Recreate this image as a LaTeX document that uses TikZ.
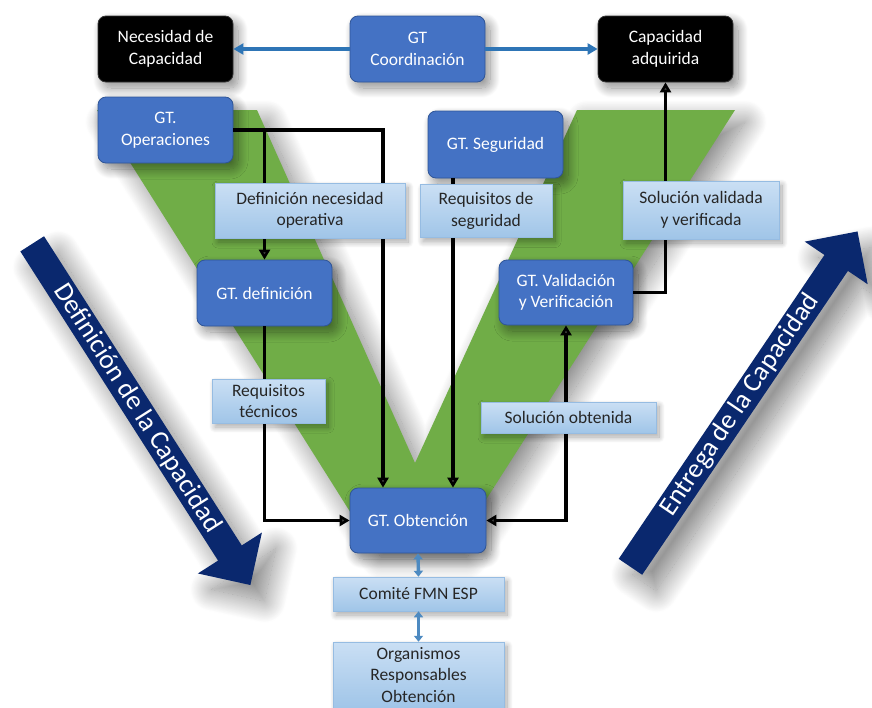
\documentclass[tikz,border=0pt]{standalone}
\usepackage{fontspec}
\setmainfont{Carlito}
\usetikzlibrary{arrows.meta,shapes.arrows,shadows.blur}

\definecolor{gtblue}{RGB}{68,114,196}
\definecolor{gtborder}{RGB}{47,85,151}
\definecolor{vgreen}{RGB}{112,173,71}
\definecolor{deepnavy}{RGB}{10,40,110}
\definecolor{linkblue}{RGB}{46,117,182}
\definecolor{lbltop}{RGB}{202,223,244}
\definecolor{lblbot}{RGB}{160,197,232}
\definecolor{lblline}{RGB}{150,188,226}

\tikzset{
  softshadow/.style={blur shadow={shadow xshift=5pt, shadow yshift=-6pt,
      shadow blur radius=10pt, shadow blur steps=24, shadow opacity=45}},
  gt/.style={rectangle, rounded corners=8pt, fill=gtblue, draw=gtborder,
    line width=0.8pt, text=white, align=center, inner sep=0pt,
    minimum width=135pt, minimum height=66pt,
    font=\fontsize{17.5}{21.5}\selectfont, softshadow},
  milestone/.style={gt, fill=black, draw=black!80},
  tag/.style={rectangle, top color=lbltop, bottom color=lblbot, draw=lblline,
    line width=0.5pt, text=black!85, align=center, inner sep=0pt,
    font=\fontsize{17.5}{21.5}\selectfont,
    blur shadow={shadow xshift=3pt, shadow yshift=-4pt,
      shadow blur radius=6pt, shadow blur steps=16, shadow opacity=35}},
  phase/.style={single arrow, fill=deepnavy, text=white, inner sep=0pt,
    minimum height=405pt, minimum width=76pt,
    single arrow head extend=20pt, single arrow tip angle=90,
    font=\fontsize{27}{27}\selectfont,
    blur shadow={shadow xshift=14pt, shadow yshift=-16pt,
      shadow blur radius=22pt, shadow blur steps=40, shadow opacity=50}},
  flow/.style={line width=3.8pt, -{Triangle[length=10pt,width=11pt]}},
  flowboth/.style={line width=3.8pt,
    {Triangle[length=10pt,width=11pt]}-{Triangle[length=10pt,width=11pt]}},
  bluelink/.style={draw=linkblue, line width=3.4pt,
    -{Triangle[length=10pt,width=11pt]}},
  twoway/.style={draw=linkblue!85, line width=3.4pt,
    {Triangle[length=6pt,width=9pt]}-{Triangle[length=6pt,width=9pt]}},
}

\begin{document}
\begin{tikzpicture}[x=1pt,y=-1pt]
\useasboundingbox (0,0) rectangle (872,707);

% green V behind the process
\fill[vgreen, blur shadow={shadow xshift=10pt, shadow yshift=-12pt,
      shadow blur radius=22pt, shadow blur steps=40, shadow opacity=50}]
  (97,110) -- (257,110) -- (415,463) -- (577,110) -- (735,110)
  -- (457,545) -- (371,545) -- cycle;

% phase arrows
\node[phase, rotate=-57.4] (defcap) at (137.5,408.5) {Definición de la Capacidad};
\node[phase, rotate=55.9] (entcap) at (740,405) {Entrega de la Capacidad};

% milestones and working groups
\node[milestone] (nec) at (165.5,49) {Necesidad de\\Capacidad};
\node[gt] (coord) at (417.5,49) {GT\\Coordinación};
\node[milestone] (cap) at (665.5,49) {Capacidad\\adquirida};
\node[gt] (ops) at (165.5,130) {GT.\\Operaciones};
\node[gt, minimum height=67pt] (seg) at (495.5,144.5) {GT. Seguridad};
\node[gt] (gtdef) at (264.5,293) {GT. definición};
\node[gt, minimum width=134pt, minimum height=65pt] (val) at (566,292.5) {GT. Validación\\y Verificación};
\node[gt, minimum width=136pt, minimum height=65pt] (obt) at (418,520.5) {GT. Obtención};

% coordination links
\draw[bluelink] (coord.west) -- (nec.east);
\draw[bluelink] (coord.east) -- (cap.west);

% process flow
\draw[flow] (ops.east) -| ([xshift=-35pt]obt.north);
\draw[flow] (ops.east -| gtdef.north) -- (gtdef.north);
\draw[flow] ([xshift=35pt]obt.north |- seg.south) -- ([xshift=35pt]obt.north);
\draw[flow] (gtdef.south) |- (obt.west);
\draw[flowboth] (obt.east) -| (val.south);
\draw[flow] (val.east) -| (cap.south);

% labels on the flow
\node[tag, minimum width=190pt, minimum height=55pt] (defnec) at (310,210.5) {Definición necesidad\\operativa};
\node[tag, minimum width=132pt, minimum height=53pt] (reqseg) at (486,211) {Requisitos de\\seguridad};
\node[tag, minimum width=156pt, minimum height=58pt] (solval) at (701,210) {Solución validada\\y verificada};
\node[tag, minimum width=113pt, minimum height=44pt] (reqtec) at (268.5,401) {Requisitos\\técnicos};
\node[tag, minimum width=175pt, minimum height=31pt] (solobt) at (568.5,417.5) {Solución obtenida};

% acquisition chain
\node[tag, minimum width=171pt, minimum height=34pt] (com) at (418.5,594) {Comité FMN ESP};
\node[tag, minimum width=171pt, minimum height=66pt] (org) at (418.5,675) {Organismos\\Responsables\\Obtención};
\draw[twoway] (obt.south) -- (com.north);
\draw[twoway] (com.south) -- (org.north);
\end{tikzpicture}
\end{document}
